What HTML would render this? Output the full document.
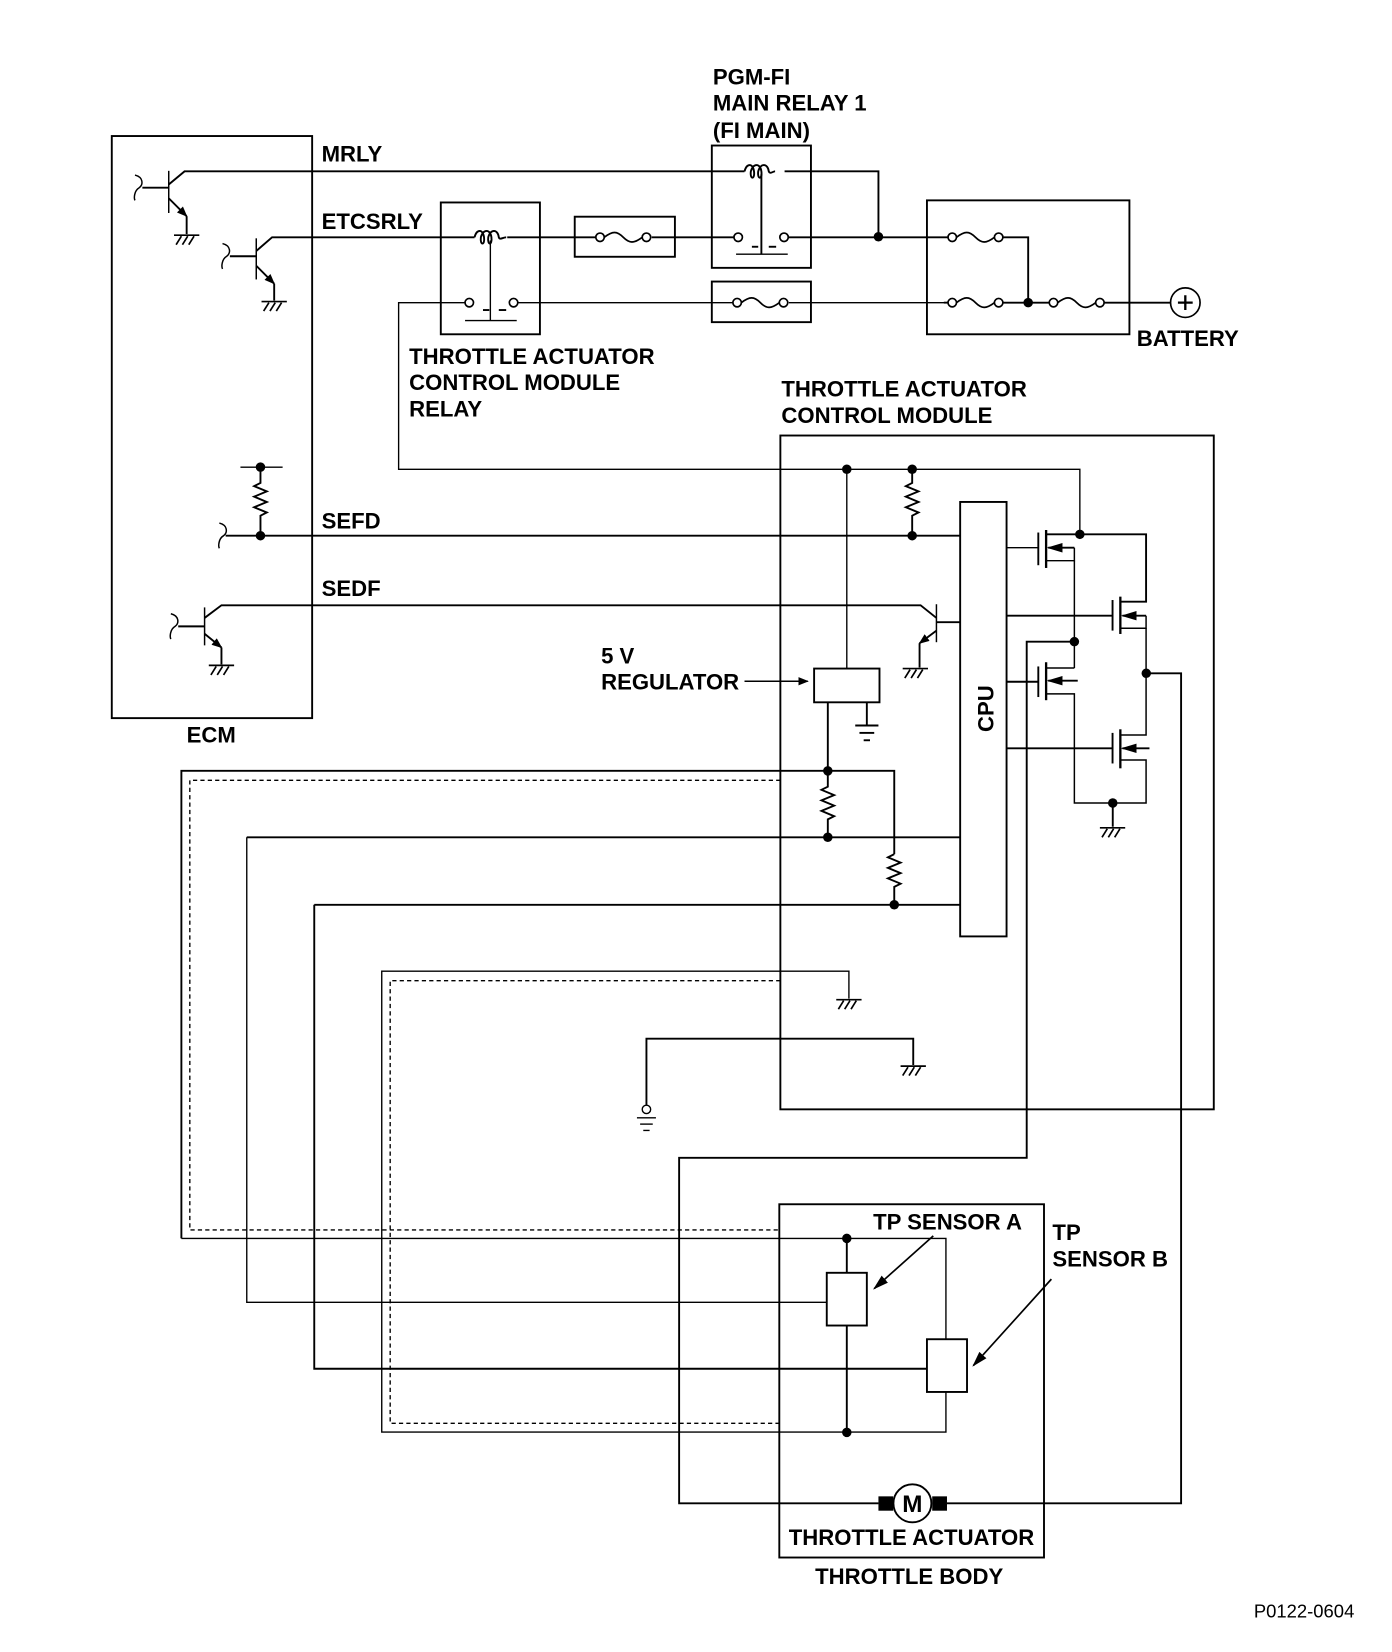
<!DOCTYPE html>
<html><head><meta charset="utf-8"><style>
html,body{margin:0;padding:0;background:#fff;}
svg{display:block;}
text{font-family:"Liberation Sans",Arial,sans-serif;font-weight:bold;font-size:21px;fill:#000;}
</style></head><body>
<svg width="1392" height="1652" viewBox="0 0 1320 1566.6" preserveAspectRatio="none" xmlns="http://www.w3.org/2000/svg">
<defs>
<g id="gnd" stroke="#000" stroke-width="1.6" fill="none">
<line x1="-12" y1="0" x2="12" y2="0"/>
<line x1="-5" y1="1" x2="-10" y2="9"/><line x1="1" y1="1" x2="-4" y2="9"/><line x1="7" y1="1" x2="2" y2="9"/>
</g>
<g id="fuse" stroke="#000" stroke-width="1.6" fill="none">
<circle cx="0" cy="0" r="4" fill="#fff"/><circle cx="44" cy="0" r="4" fill="#fff"/>
<path d="M4,0 C12,-6 16,-6 22,0 C28,6 32,6 40,0"/>
</g>
<g id="curl" stroke="#000" stroke-width="1.4" fill="none">
<path d="M-4,-12 C4,-10 4,-3 0,0 C-5,3 -5,10 -4,12"/>
</g>
<marker id="arr" viewBox="0 0 10 10" refX="9" refY="5" markerWidth="10" markerHeight="10" orient="auto" markerUnits="userSpaceOnUse"><path d="M0,1 L10,5 L0,9 Z" fill="#000"/></marker>
<marker id="arr2" viewBox="0 0 10 10" refX="9" refY="5" markerWidth="15" markerHeight="15" orient="auto" markerUnits="userSpaceOnUse"><path d="M0,2 L10,5 L0,8 Z" fill="#000"/></marker>
</defs>

<g stroke="#000" fill="none" stroke-width="1.8">
<rect x="106" y="129" width="190" height="552"/>
<rect x="418" y="192" width="94" height="125"/>
<rect x="545" y="205.5" width="95" height="38"/>
<rect x="675" y="138" width="94" height="116"/>
<rect x="675" y="267" width="94" height="38.5"/>
<rect x="879" y="190" width="192" height="127"/>
<rect x="740" y="413" width="411" height="639"/>
<rect x="910.5" y="476" width="44" height="412"/>
<rect x="772" y="634" width="62" height="32"/>
<rect x="739" y="1142" width="251" height="335"/>
<rect x="784" y="1207" width="38" height="50"/>
<rect x="879" y="1270" width="38" height="50"/>
</g>

<g stroke="#000" fill="none" stroke-width="1.8">
<polyline points="160,175 175,162.5 706,162.5"/>
<polyline points="744,162.5 833,162.5 833,224.5"/>
<path d="M706,162.5 c2,-8 8,-8 9,0 c1,8 -4,8 -3,0 c2,-8 9,-8 10,0 c1,8 -4,8 -3,0 c2,-8 9,-8 10,0 c1,3 4,0 6,0"/>
<line x1="722" y1="165" x2="722" y2="241"/>
<line x1="698" y1="241" x2="747" y2="241" stroke-width="1.3"/>
<polyline points="243,238 258,225 450,225"/>
<path d="M450,225 c2,-8 8,-8 9,0 c1,8 -4,8 -3,0 c2,-8 9,-8 10,0 c1,8 -4,8 -3,0 c2,-8 9,-8 10,0 c1,3 4,0 7,0"/>
<line x1="481" y1="225" x2="565" y2="225"/>
<line x1="618" y1="225" x2="696" y2="225"/>
<line x1="748" y1="225" x2="899" y2="225"/>
<line x1="465" y1="228" x2="465" y2="304" stroke-width="1.3"/>
<line x1="441" y1="304" x2="490" y2="304" stroke-width="1.3"/>
<line x1="458" y1="294" x2="464" y2="294"/><line x1="473" y1="294" x2="480" y2="294"/>
<line x1="713" y1="234" x2="719" y2="234"/><line x1="729" y1="234" x2="736" y2="234"/>
<polyline points="951,225 975,225 975,287"/>
<line x1="907" y1="287" x2="895" y2="287"/>
<line x1="951" y1="287" x2="995" y2="287"/>
<line x1="1047" y1="287" x2="1110" y2="287"/>
</g>
<g stroke="#000" fill="none" stroke-width="1.3">
<polyline points="441,287 378,287 378,445 1024,445 1024,507"/>
<line x1="491" y1="287" x2="695" y2="287"/>
<line x1="748" y1="287" x2="899" y2="287"/>
</g>
<g stroke="#000" fill="#fff" stroke-width="1.6">
<circle cx="445" cy="287" r="4"/><circle cx="487" cy="287" r="4"/>
<circle cx="700" cy="225" r="4"/><circle cx="743.5" cy="225" r="4"/>
</g>
<use href="#fuse" x="569" y="225"/>
<use href="#fuse" x="699" y="287"/>
<use href="#fuse" x="903" y="225"/>
<use href="#fuse" x="903" y="287"/>
<use href="#fuse" x="999" y="287"/>
<circle cx="1124" cy="287" r="14" fill="#fff" stroke="#000" stroke-width="1.6"/>
<path d="M1117,287 h14 M1124,280 v14" stroke="#000" stroke-width="2.2"/>

<g stroke="#000" fill="none" stroke-width="1.8">
<line x1="160" y1="162" x2="160" y2="202" stroke-width="1.4"/>
<line x1="135" y1="178" x2="160" y2="178"/>
<line x1="160" y1="188" x2="177" y2="205" marker-end="url(#arr)"/>
<line x1="177" y1="205" x2="177" y2="222"/>
<line x1="243" y1="226" x2="243" y2="265" stroke-width="1.4"/>
<line x1="218" y1="243" x2="243" y2="243"/>
<line x1="243" y1="252" x2="260" y2="269" marker-end="url(#arr)"/>
<line x1="260" y1="269" x2="260" y2="285"/>
<line x1="194" y1="576" x2="194" y2="612" stroke-width="1.4"/>
<line x1="169" y1="594" x2="194" y2="594"/>
<polyline points="194,586 210,574 873,574 888,586"/>
<line x1="194" y1="601" x2="210" y2="614" marker-end="url(#arr)"/>
<line x1="210" y1="614" x2="210" y2="630"/>
<line x1="888" y1="573" x2="888" y2="609" stroke-width="1.4"/>
<line x1="888" y1="590" x2="911" y2="590"/>
<line x1="888" y1="598" x2="872" y2="610" marker-end="url(#arr)"/>
<line x1="872" y1="610" x2="872" y2="633"/>
</g>
<use href="#curl" x="132" y="178"/>
<use href="#curl" x="215" y="243"/>
<use href="#curl" x="166" y="594"/>
<use href="#curl" x="212" y="508"/>
<use href="#gnd" x="177" y="223"/>
<use href="#gnd" x="260" y="286"/>
<use href="#gnd" x="210" y="631"/>
<use href="#gnd" x="868" y="634"/>

<g stroke="#000" fill="none" stroke-width="1.8">
<line x1="214" y1="508" x2="911" y2="508"/>
<line x1="228" y1="443" x2="268" y2="443" stroke-width="1.3"/>
<path d="M247,443 V458 l-6,3 l12,5 l-12,5 l12,5 l-12,5 l12,5 l-6,3 V508"/>
<path d="M865,445 V458 l-6,3 l12,5 l-12,5 l12,5 l-12,5 l12,5 l-6,3 V508"/>
<line x1="803" y1="445" x2="803" y2="634" stroke-width="1.3"/>
<polyline points="822,666 822,688"/>
<line x1="811" y1="688" x2="833" y2="688"/>
<line x1="815" y1="695" x2="829" y2="695"/>
<line x1="819" y1="702" x2="825" y2="702"/>
<path d="M785,666 V746 l-6,3 l12,5 l-12,5 l12,5 l-12,5 l12,5 l-6,3 V794"/>
<polyline points="172,1174.4 172,731 848,731 848,810"/>
<path d="M848,810 l-6,3 l12,5 l-12,5 l12,5 l-12,5 l12,5 l-6,3 V858"/>
<line x1="234" y1="794" x2="911" y2="794"/>
<line x1="298" y1="858" x2="911" y2="858"/>
<polyline points="234,794 234,1235 784,1235" stroke-width="1.3"/>
<polyline points="298,858 298,1298 879,1298"/>
<polyline points="172,1174.4 897,1174.4 897,1270" stroke-width="1.3"/>
<polyline points="805,947 805,921 362,921 362,1358 897,1358 897,1320" stroke-width="1.3"/>
<line x1="803" y1="1174" x2="803" y2="1207"/>
<line x1="803" y1="1257" x2="803" y2="1358"/>
<polyline points="866,1010 866,985 613,985 613,1048"/>
<polyline points="1087,638.5 1120,638.5 1120,1425.6 898,1425.6"/>
<polyline points="1019,608.5 973.6,608.5 973.6,1098 644,1098 644,1425.6 833,1425.6"/>
<line x1="706" y1="646" x2="766" y2="646" stroke-width="1.4" marker-end="url(#arr)"/>
</g>
<g stroke="#000" fill="none" stroke-width="1.3" stroke-dasharray="4,3">
<polyline points="740,740 180,740 180,1166.4 740,1166.4"/>
<polyline points="740,930 370,930 370,1349.7 740,1349.7"/>
</g>
<use href="#gnd" x="805" y="948"/>
<use href="#gnd" x="866" y="1011"/>
<use href="#gnd" x="1055" y="785"/>
<g stroke="#000" fill="none" stroke-width="1.3">
<circle cx="613" cy="1052" r="4" fill="#fff"/>
<line x1="604" y1="1060" x2="622" y2="1060"/>
<line x1="607" y1="1066" x2="619" y2="1066"/>
<line x1="610" y1="1072" x2="616" y2="1072"/>
</g>

<g stroke="#000" fill="none" stroke-width="1.8">
<line x1="954.5" y1="519.4" x2="984.6" y2="519.4" stroke-width="1.3"/>
<line x1="984.6" y1="505" x2="984.6" y2="536"/>
<line x1="992" y1="502.6" x2="992" y2="538.6" stroke-width="2.2"/>
<polyline points="992,506.7 1086.8,506.7 1086.8,570.6 1062.4,570.6"/>
<line x1="1018.8" y1="519.4" x2="994" y2="519.4" marker-end="url(#arr2)"/>
<polyline points="992,531.7 1018.8,531.7 1018.8,519.4" stroke-width="1.4"/>
<line x1="1018.8" y1="531.7" x2="1018.8" y2="633.5" stroke-width="1.4"/>
<polyline points="992,633.5 1018.8,633.5" stroke-width="1.4"/>
<line x1="954.5" y1="646.5" x2="984.6" y2="646.5"/>
<line x1="984.6" y1="632" x2="984.6" y2="661"/>
<line x1="992" y1="628" x2="992" y2="664" stroke-width="2.2"/>
<line x1="1022" y1="645.5" x2="994" y2="645.5" marker-end="url(#arr2)"/>
<polyline points="992,658 1018.8,658 1018.8,761.5 1086.8,761.5 1086.8,720.7 1062.4,720.7" stroke-width="1.4"/>
<line x1="1055.2" y1="761.5" x2="1055.2" y2="784"/>
<line x1="954.5" y1="583.9" x2="1055" y2="583.9"/>
<line x1="1055" y1="569" x2="1055" y2="598"/>
<line x1="1062.4" y1="565.8" x2="1062.4" y2="601.2" stroke-width="2.2"/>
<line x1="1086.8" y1="583.9" x2="1064.4" y2="583.9" marker-end="url(#arr2)"/>
<polyline points="1062.4,595.8 1086.8,595.8 1086.8,583.9" stroke-width="1.4"/>
<polyline points="1086.8,595.8 1086.8,697 1062.4,697" stroke-width="1.4"/>
<line x1="954.5" y1="709.6" x2="1055" y2="709.6"/>
<line x1="1055" y1="695" x2="1055" y2="724"/>
<line x1="1062.4" y1="691.6" x2="1062.4" y2="728.6" stroke-width="2.2"/>
<line x1="1090" y1="709.6" x2="1064.4" y2="709.6" marker-end="url(#arr2)"/>
</g>

<g fill="#000">
<circle cx="833" cy="224.5" r="4.5"/>
<circle cx="975" cy="287" r="4.5"/>
<circle cx="247" cy="443" r="4.5"/>
<circle cx="247" cy="508" r="4.5"/>
<circle cx="803" cy="445" r="4.5"/>
<circle cx="865" cy="445" r="4.5"/>
<circle cx="865" cy="508" r="4.5"/>
<circle cx="1024" cy="506.7" r="4.5"/>
<circle cx="1018.8" cy="608.5" r="4.5"/>
<circle cx="1087" cy="638.5" r="4.5"/>
<circle cx="1055.2" cy="761.5" r="4.5"/>
<circle cx="785" cy="731" r="4.5"/>
<circle cx="785" cy="794" r="4.5"/>
<circle cx="848" cy="858" r="4.5"/>
<circle cx="803" cy="1174.4" r="4.5"/>
<circle cx="803" cy="1358.3" r="4.5"/>
<rect x="833" y="1419" width="14" height="13.6"/>
<rect x="884" y="1419" width="14" height="13.6"/>
</g>
<circle cx="865.2" cy="1425.6" r="18" fill="#fff" stroke="#000" stroke-width="1.8"/>
<text x="865.2" y="1434" text-anchor="middle" style="font-size:23px">M</text>

<line x1="885" y1="1172" x2="829" y2="1222" stroke="#000" stroke-width="1.6" marker-end="url(#arr2)"/>
<line x1="997" y1="1213" x2="923" y2="1295" stroke="#000" stroke-width="1.6" marker-end="url(#arr2)"/>

<text x="676" y="80">PGM-FI</text>
<text x="676" y="105">MAIN RELAY 1</text>
<text x="676" y="131">(FI MAIN)</text>
<text x="305" y="153">MRLY</text>
<text x="305" y="217">ETCSRLY</text>
<text x="388" y="345">THROTTLE ACTUATOR</text>
<text x="388" y="370">CONTROL MODULE</text>
<text x="388" y="395">RELAY</text>
<text x="1078" y="328">BATTERY</text>
<text x="741" y="376">THROTTLE ACTUATOR</text>
<text x="741" y="401">CONTROL MODULE</text>
<text x="305" y="501">SEFD</text>
<text x="305" y="565">SEDF</text>
<text x="570" y="629">5 V</text>
<text x="570" y="654">REGULATOR</text>
<text x="177" y="704">ECM</text>
<text transform="translate(942,672) rotate(-90)" text-anchor="middle">CPU</text>
<text x="828" y="1166">TP SENSOR A</text>
<text x="998" y="1176">TP</text>
<text x="998" y="1201">SENSOR B</text>
<text x="748" y="1465">THROTTLE ACTUATOR</text>
<text x="773" y="1502">THROTTLE BODY</text>
<text x="1189" y="1534" style="font-weight:normal;font-size:17.5px">P0122-0604</text>
</svg>
</body></html>
